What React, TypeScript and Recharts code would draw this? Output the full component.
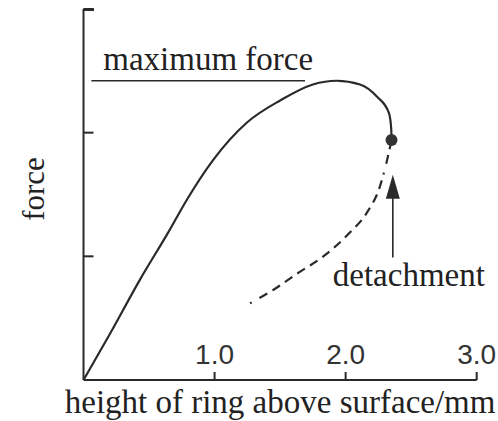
import React from "react";
import {
  LineChart,
  Line,
  XAxis,
  YAxis,
  ReferenceLine,
  ReferenceDot,
} from "recharts";

// force curve while the ring is pulled up (solid) and after detachment (dashed)
const pullCurve = [
  { x: 0, y: 0 },
  { x: 0.2, y: 0.37 },
  { x: 0.43, y: 0.81 },
  { x: 0.65, y: 1.2 },
  { x: 0.79, y: 1.46 },
  { x: 0.99, y: 1.78 },
  { x: 1.245, y: 2.08 },
  { x: 1.5, y: 2.26 },
  { x: 1.75, y: 2.39 },
  { x: 1.93, y: 2.42 },
  { x: 2.11, y: 2.39 },
  { x: 2.24, y: 2.29 },
  { x: 2.33, y: 2.16 },
  { x: 2.348, y: 2.03 },
  { x: 2.35, y: 1.94 },
];

const afterCurve = [
  { x: 1.27, y: 0.62 },
  { x: 1.45, y: 0.73 },
  { x: 1.63, y: 0.86 },
  { x: 1.83, y: 1.0 },
  { x: 2.03, y: 1.19 },
  { x: 2.16, y: 1.35 },
  { x: 2.26, y: 1.56 },
  { x: 2.31, y: 1.75 },
  { x: 2.35, y: 1.94 },
];

const xTicks = [1, 2, 3];
const yTicks = [1, 2, 3];
const detachPoint = { x: 2.35, y: 1.94 };
const maxForceLine = [
  { x: 0.06, y: 2.42 },
  { x: 1.69, y: 2.42 },
];
const arrowLine = [
  { x: 2.36, y: 0.99 },
  { x: 2.36, y: 1.66 },
];
// the end tick at the top of the force axis
const topTick = [
  { x: 0, y: 2.995 },
  { x: 0.08, y: 2.995 },
];

const INK = "#2a2a2a";
const SERIF = "'Liberation Serif', 'DejaVu Serif', serif";
const SANS = "'Liberation Sans', Arial, sans-serif";

const Arrow = (props: any) => {
  const { x1, y1, x2, y2 } = props;
  const top = Math.min(y1, y2);
  const bottom = Math.max(y1, y2);
  const x = (x1 + x2) / 2;
  return (
    <g>
      <line x1={x} y1={bottom} x2={x} y2={top + 20} stroke={INK} strokeWidth={1.6} />
      <polygon
        points={`${x},${top} ${x - 7},${top + 24} ${x + 7},${top + 24}`}
        fill={INK}
      />
    </g>
  );
};

export default function App() {
  return (
    <div style={{ position: "fixed", left: 0, top: 0, width: 498, height: 421, background: "#fff" }}>
      <LineChart
        width={498}
        height={421}
        margin={{ top: 9, right: 21.3, left: 0, bottom: 0 }}
        style={{ overflow: "visible" }}
      >
        <XAxis
          type="number"
          dataKey="x"
          domain={[0, 3]}
          ticks={xTicks}
          interval={0}
          tickFormatter={(v: number) => v.toFixed(1)}
          height={41}
          stroke={INK}
          strokeWidth={2}
          tickSize={-8}
          tickMargin={-28}
          tick={{ fill: "#333", fontSize: 28, fontFamily: SANS }}
          allowDataOverflow
          label={{
            value: "height of ring above surface/mm",
            position: "insideBottom",
            offset: 8.5,
            fill: "#222",
            fontSize: 33,
            fontFamily: SERIF,
          }}
        />
        <YAxis
          type="number"
          domain={[0, 3]}
          ticks={yTicks}
          interval={0}
          width={83.5}
          stroke={INK}
          strokeWidth={2}
          tickSize={-10}
          tickFormatter={() => ""}
          allowDataOverflow
          label={{
            value: "force",
            angle: -90,
            position: "center",
            dx: -8.75,
            dy: -5.5,
            fill: "#222",
            fontSize: 31,
            fontFamily: SERIF,
          }}
        />
        <ReferenceLine
          segment={topTick}
          stroke="#111"
          strokeWidth={2.5}
          ifOverflow="extendDomain"
        />
        <ReferenceLine
          segment={maxForceLine}
          stroke={INK}
          strokeWidth={1.5}
          label={{
            value: "maximum force",
            position: "top",
            offset: 11,
            dx: 10,
            fill: "#222",
            fontSize: 33,
            fontFamily: SERIF,
          }}
        />
        <ReferenceLine
          segment={arrowLine}
          shape={Arrow}
          label={{
            value: "detachment",
            position: "bottom",
            offset: 5,
            dx: 16,
            fill: "#222",
            fontSize: 33,
            fontFamily: SERIF,
          }}
        />
        <Line
          data={pullCurve}
          dataKey="y"
          type="monotoneX"
          stroke={INK}
          strokeWidth={2.2}
          dot={false}
          isAnimationActive={false}
        />
        <Line
          data={afterCurve}
          dataKey="y"
          type="monotoneX"
          stroke={INK}
          strokeWidth={2.2}
          strokeDasharray="2 9 9 6 9 6 9 6 9 6 9 6 9 6 9 6 9 6 9 6 9 6 9 6 9 6"
          dot={false}
          isAnimationActive={false}
        />
        <ReferenceDot
          x={detachPoint.x}
          y={detachPoint.y}
          r={6}
          fill="#333"
          stroke="none"
        />
      </LineChart>
    </div>
  );
}
